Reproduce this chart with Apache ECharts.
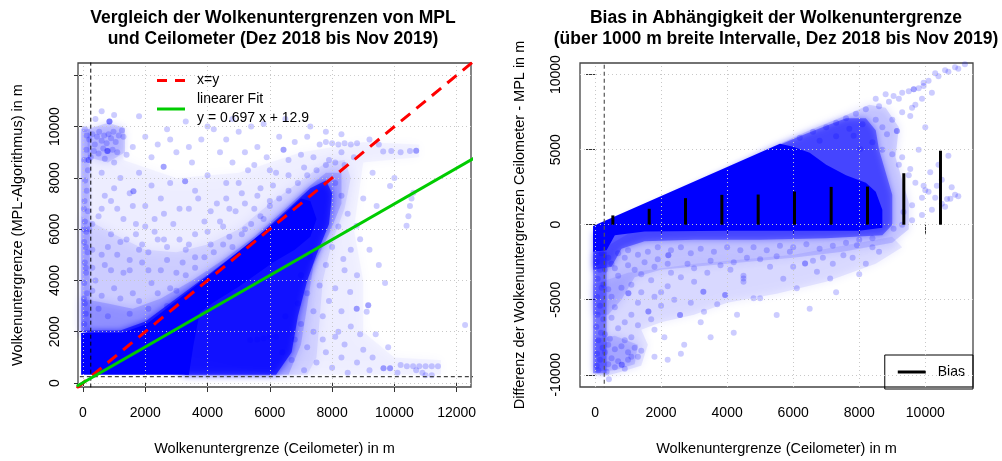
<!DOCTYPE html>
<html><head><meta charset="utf-8">
<script src="https://cdn.jsdelivr.net/npm/echarts@6/dist/echarts.min.js"></script>
<style>html,body{margin:0;padding:0;background:#fff}#c{width:1002px;height:461px}</style>
</head><body><div id="c"></div>
<script>
// ---------------- data ----------------
const xTicksL = [0, 2000, 4000, 6000, 8000, 10000, 12000];
const yTicksL = [0, 2000, 4000, 6000, 8000, 10000, 12000];
const yLabelsL = [0, 2000, 4000, 6000, 8000, 10000];
const xTicksR = [0, 2000, 4000, 6000, 8000, 10000];
const yTicksR = [-10000, -5000, 0, 5000, 10000];

const identityLine = [[-200, -200], [13000, 13000]];
const fitLine = [[-200, -126.5], [13000, 9073.9]];      // y = 0.697 x + 12.9
const thresholdL = 250;
const thresholdR = 280;

// bias per 1000 m interval (right panel)
const biasX = [540, 1640, 2740, 3840, 4940, 6040, 7150, 8250, 9350, 10460];
const biasY = [620, 1060, 1770, 1990, 2010, 2210, 2520, 2540, 3430, 4930];

// point-cloud density regions, left panel (ceilometer vs MPL), from sparse to solid
const cloudL1 = [[-60,2000],[-60,10000],[1300,10000],[1300,8700],[3000,8000],[5000,8200],[7000,9000],[9000,9400],[10800,9300],[10800,8800],[9000,8600],[8700,6000],[9000,4000],[9000,2000],[10000,1000],[11500,900],[11500,320],[6000,320]];
const cloudL2 = [[-60,2000],[-60,6500],[1000,5800],[2000,5200],[3000,5100],[4000,5400],[5000,6000],[6000,7000],[7000,7900],[7800,8600],[8400,8700],[8600,8000],[8400,6800],[8000,5500],[7700,4000],[7600,2500],[7500,1000],[7200,320],[3300,320]];
const cloudL3 = [[-60,2000],[-60,3300],[800,3100],[1600,2900],[2500,3300],[3500,4000],[4500,4800],[5500,5700],[6500,6800],[7300,7700],[7800,8200],[8300,8200],[8300,7000],[7900,5800],[7400,4600],[7200,3000],[7000,1500],[6600,320],[3300,320]];
const cloudL4 = [[3300,320],[6200,320],[6700,1200],[6900,2600],[7200,4000],[7500,5000],[7900,6200],[8000,7400],[7800,7900],[7300,7600],[6500,6700],[5500,5600],[4000,4200],[2000,2400],[1200,2050],[-60,2050]];
const cloudL5 = [[-60,320],[3400,320],[3550,1500],[3750,2750],[4200,3150],[5000,3750],[6100,4700],[6800,5200],[7300,5700],[7500,6400],[7300,7100],[7000,7200],[6200,6300],[4000,4150],[2050,2300],[1250,1950],[-60,1950]];
const columnL = [[-60,2000],[220,2000],[220,9900],[-60,9900]];
const clusterL = [[150,8800],[800,8600],[1350,9000],[1350,9950],[800,10150],[150,9900]];
const pointsL = [
 [120,9650],[200,9500],[300,9700],[380,9300],[450,9600],[520,9800],[600,9450],[680,9650],[760,9350],[820,9700],[900,9550],[980,9800],[1050,9400],[1150,9650],[1250,9850],[1300,9600],[350,9050],[500,8950],[650,9150],[800,9050],[950,9100],[1100,9000],[250,8800],[700,8750],[850,10200],[850,10200],[850,10200],[780,9050],[780,9050],[400,10300],[1000,10450],[600,10600],
 [40,2300],[90,2700],[60,3100],[130,3500],[40,3900],[100,4300],[60,4700],[150,5100],[40,5500],[110,5900],[60,6300],[160,6700],[50,7100],[120,7500],[70,7900],[160,8300],[40,8700],[180,8700],[180,8700],[110,9100],[60,9900],[30,6000],[30,6800],[90,4500],[90,5300],[30,3300],[200,6000],
 [500,6500],[700,7300],[900,5800],[1100,6800],[1200,8000],[1400,5600],[1500,7400],[1620,7480],[1620,7480],[1700,6200],[1800,8200],[1900,5400],[2000,6900],[2200,7700],[2300,5900],[2400,9300],[2590,8430],[2590,8430],[2600,6600],[2700,5300],[2800,7800],[2900,6200],[3000,9000],[3100,5600],[3280,7870],[3280,7870],[3400,6800],[3500,8600],[3600,5800],[3700,7200],[3800,9500],[3900,6300],[4000,8100],[4100,5400],[4300,7000],[4400,9000],[4500,6100],[4600,7800],[4700,5700],[4800,8600],[4900,6700],[5000,9800],[5100,7400],[5200,6000],[5300,8300],[5500,6800],[5600,9200],[5700,7600],[5800,6400],[5900,8800],[6000,7100],[6200,8200],[6300,9600],[6440,9100],[6440,9100],[6600,8700],[6800,9400],[7000,8900],[7200,9600],[7400,8800],[7600,9300],[7800,9400],[8000,9350],[8200,9300],[8400,9350],[8600,9300],[8800,9350],[8300,9000],[7900,8700],[9640,9030],[9900,9050],[10200,9000],[10500,9050],[10700,9060],[10700,9060],[9200,9500],[8700,8800],
 [400,4000],[700,4600],[1000,3700],[1300,4300],[1600,3500],[1900,4700],[2200,3900],[2500,4400],[2800,3700],[600,3400],[1100,5000],[1500,4400],[2100,5100],[2600,5600],[3200,4700],[3400,5400],[300,5200],[800,5300],[1700,5800],[2300,6400],[1000,7600],[600,8200],[1400,8900],[2000,9600],[2700,9900],[3300,10200],[4200,9900],[1800,10400],[4800,10300],[5400,10000],
 [300,3600],[500,2900],[800,2600],[1200,3300],[1500,2700],[1800,3200],[2100,2900],[2400,3500],[2700,3000],[3000,3600],[3300,4200],[3600,4500],[3900,4900],[4200,5100],[4500,5400],[4800,5300],[5100,5800],[5400,6200],[5700,6500],[6000,6900],[6300,7200],[6600,7500],[6900,7800],[7200,8100],[7500,8300],[7800,8500],[8100,8600],[8400,8500],[300,4500],[600,5000],[900,4400],[1200,5500],[1500,4800],[1800,5200],[2100,4400],[2400,5600],[2700,4800],[3000,4300],[3300,5200],[3600,4900],[4000,5900],[4400,6300],[4700,6800],[5200,7000],[5600,7300],[6100,7700],[6600,8100],[7100,8400],[300,6200],[600,6800],[900,7100],[1300,6400],[1600,6900],[2000,6100],[2500,7200],[3100,6800],[3600,7500],[4100,6700],[4600,7200],[5000,7800],[5500,8500],[6000,8300],[1000,8600],[1600,9200],[2200,8800],[2800,9500],[3400,9200],[4000,10000],[4600,9500],[5200,9000],[5800,10100],[6500,10300],[7300,10000],[7800,9800],[8300,9700],[9500,9300],
 [8100,7800],[8300,7300],[8500,6600],[8200,6100],[8600,5200],[8400,4400],[8100,3700],[8300,2800],[7900,3200],[7600,3800],[7800,4600],[8000,5300],[8200,2000],[8400,1500],[7700,1700],[7400,2800],[7200,3500],[6900,3100],[7000,4200],[7300,4900],[10200,700],[10700,500],[11000,300],[9300,1000],[9800,1400],[8900,1900],
 [8790,6130],[8900,5610],[8360,4840],[8580,3550],[9110,2780],[9430,6900],[9860,7680],[10390,6130],[10450,6500],[10500,6900],[10550,7200],[10610,7420],[9200,5200],[9500,4600],[8800,4200],[9700,3900],[8790,2900],[8790,2900],[9160,3030],[9160,3030],[9000,7200],[9300,8200],[10000,8000],[12270,2260],
 [6200,1800],[6400,1200],[6500,2600],[6700,900],[6800,1700],[7000,2300],[7100,500],[7200,1400],[7400,2000],[7500,800],[7700,2600],[7800,1200],[8000,600],[8100,1800],[8300,1000],[8500,400],[8600,2200],[8800,800],[9000,1300],[9200,500],[9400,1900],[9650,580],[9650,580],[9860,580],[9860,580],[10100,400],[10400,650],[10600,650],[10800,650],[11000,650],[11200,650],[11400,650],[10900,400],[11200,300],[5370,1680],[5600,1700],[5800,1750],[6000,1800]
];

// point-cloud density regions, right panel (ceilometer vs difference)
const cloudR1 = [[-60,-4000],[-60,-9900],[300,-10100],[800,-9800],[1400,-9400],[1600,-8000],[1400,-7000],[2000,-6500],[3000,-6000],[4000,-5200],[5500,-4600],[7000,-3800],[8500,-2600],[9300,-1500],[9000,-800],[6000,-2000],[3000,-2600],[1000,-3200]];
const cloudR2 = [[5400,5200],[6500,6300],[7500,7200],[8300,8000],[8800,7800],[9200,6500],[9100,4500],[9300,3000],[9500,1500],[9500,-300],[9000,-1200],[7500,-1800],[6000,-2200],[4500,-2500],[3000,-2800],[2000,-3000],[1200,-3500],[800,-5000],[400,-6000],[-60,-6000],[-60,-2000]];
const cloudR3 = [[5400,5150],[6200,5900],[7000,6600],[7600,7100],[8200,7100],[8500,6300],[8600,5000],[8800,3500],[9000,2000],[9000,0],[8700,-700],[7000,-900],[5000,-1000],[3000,-1000],[1500,-1100],[800,-1600],[500,-2800],[-60,-3000],[-60,-500]];
const cloudR4 = [[-60,-80],[5600,5400],[6000,5200],[6500,4800],[7000,4000],[7600,3300],[8200,2800],[8500,2200],[8700,1000],[8700,-200],[8000,-400],[4000,-400],[1500,-450],[600,-700],[350,-1700],[-60,-1800]];
const columnR = [[-60,-1800],[350,-1800],[350,-9900],[-60,-9900]];
const clusterR = [[0,-7600],[600,-7400],[1300,-8000],[1200,-9300],[600,-9700],[0,-9800]];
const pointsR = [
 [50,-2500],[150,-3000],[80,-3600],[200,-4200],[60,-4800],[150,-5400],[80,-6000],[250,-6300],[40,-6800],[180,-7200],[100,-7700],[230,-8200],[60,-8600],[150,-9000],[50,-9400],[100,-9700],[420,-10300],[350,-9800],
 [400,-8000],[600,-8300],[800,-8100],[1000,-8500],[1200,-8200],[500,-8900],[700,-9100],[810,-9330],[810,-9330],[1000,-9000],[1300,-8800],[450,-7600],[900,-7700],[1100,-7500],[600,-9500],
 [500,-2600],[700,-3400],[900,-2200],[1010,-4575],[1010,-4575],[1200,-3000],[1300,-5200],[1500,-2500],[1615,-5790],[1615,-5790],[1700,-3700],[1900,-2300],[2000,-4500],[2220,-2030],[2220,-2030],[2300,-3200],[2575,-6010],[2575,-6010],[600,-5500],[900,-6500],[1100,-6000],[2100,-7500],[1800,-7000],[2400,-5000],[400,-4300],
 [2800,-2600],[3000,-3800],[3280,-4460],[3280,-4460],[3500,-2400],[3700,-5300],[3940,-4690],[3940,-4690],[4100,-3000],[4300,-6000],[4495,-3400],[4495,-3580],[4495,-3800],[4600,-2200],[4800,-4900],[5000,-4900],[3200,-6500],[3500,-7500],[2700,-8000],[4200,-7200],
 [5500,-6010],[5900,-1810],[6110,-4240],[6360,-2590],[6360,-2590],[6720,-3140],[7120,-3580],[7520,-2030],[7930,-1370],[5300,-2800],[5700,-3600],[6500,-5600],[7300,-4500],[8200,-2600],[8600,-1800],[8000,-3300],[6900,-2200],
 [200,-1900],[400,-2200],[700,-1900],[1000,-1700],[1300,-2000],[1600,-1800],[1900,-1500],[2300,-1700],[2600,-1500],[2900,-1900],[3200,-1600],[3600,-1800],[4000,-1500],[4400,-1700],[4800,-1500],[5200,-1700],[5600,-1400],[6000,-1500],[6400,-1300],[6800,-1600],[7200,-1400],[7600,-1200],[8000,-1000],[8400,-900],
 [300,-3000],[600,-2900],[1000,-2700],[1400,-3300],[1800,-2800],[2200,-2600],[2600,-3500],[3000,-2900],[3400,-3200],[3800,-2700],[4200,-2500],[5000,-2300],[5500,-2100],[6000,-2800],[6600,-2400],[7200,-2600],[7800,-2200],[8400,-1500],
 [250,-4000],[500,-4800],[800,-4200],[1100,-4000],[1400,-4500],[1800,-4800],[2200,-4100],[500,-6200],[700,-6900],[300,-7300],[1300,-6700],[1700,-6300],[2000,-5400],[2900,-5200],[3300,-5800],[400,-9300],[900,-9600],[1100,-8800],[300,-8500],[1400,-8400],[1800,-8800],[2200,-9000],[2600,-8600],
 [9040,-265],[9300,0],[9600,300],[9900,650],[10200,1000],[10500,1400],[10760,1724],[9340,840],[9600,1300],[9900,1800],[10100,2200],[10350,2600],
 [9040,8570],[9300,8800],[9650,9020],[9650,9020],[9950,9240],[9950,9460],[10300,10100],[10600,10300],[10900,10500],[11200,10700],[11400,10800],
 [6200,5800],[6600,6200],[7000,6500],[7300,6800],[7600,7100],[7900,7400],[8200,7700],[8600,7900],[8900,8200],[9200,8400],[9500,8900],[9800,9100],[10100,9600],[10400,9900],[10700,10200],[11000,10400],[6800,5600],[7300,5900],[7700,6400],[8100,6700],[8500,7000],[8700,6500],[9000,7000],[9300,7500],[9600,7800],[9900,8400],[10200,8800],[8400,5500],[8700,5000],[9000,4700],[9200,4000],[9500,3300],[9700,2800],[10000,2300],[10300,1800],[10600,1200],[10800,2500],[11000,1900],[10400,4000],[10700,4600],
 [9140,6250],[9140,6250],[8840,6030],[9545,7250],[7830,5920],[8030,5040],[9545,3710],[10150,3490],[10660,1720],[9950,2600],[9300,4500],[9800,5000],[10000,6500],[9700,8000],[8500,8400],[8800,8700],[10500,3000],[10900,2000]
];

// ---------------- chart ----------------
const FONT = 'Liberation Sans, Arial, Helvetica, sans-serif';
const BLUE = '#0000ff';
const chart = echarts.init(document.getElementById('c'), null, {renderer: 'canvas'});
const plain = v => String(v);

function poly(idx, pts, opacity, blur) {
  return {type: 'custom', xAxisIndex: idx, yAxisIndex: idx, z: 1, silent: true,
    data: [pts[0]],
    renderItem: function (params, api) {
      return {type: 'polygon', shape: {points: pts.map(p => api.coord(p))},
              style: {fill: BLUE, opacity: opacity, shadowBlur: blur, shadowColor: BLUE}};
    }};
}
function dots(idx, data) {
  return {type: 'scatter', xAxisIndex: idx, yAxisIndex: idx, z: 2, silent: true,
    symbol: 'circle', symbolSize: 6, data: data,
    itemStyle: {color: BLUE, opacity: 0.2}};
}
function gridLines(idx, xs, ys) {
  return {type: 'line', xAxisIndex: idx, yAxisIndex: idx, data: [], z: 4, silent: true,
    markLine: {silent: true, symbol: ['none', 'none'], label: {show: false}, animation: false,
      lineStyle: {color: '#c8c8c8', type: [1, 3], width: 1},
      data: xs.map(v => ({xAxis: v})).concat(ys.map(v => ({yAxis: v})))}};
}
function xAx(idx, min, max, ticks, name) {
  return {gridIndex: idx, type: 'value', min: min, max: max,
    axisLine: {show: false}, splitLine: {show: false},
    axisTick: {show: true, customValues: ticks, length: 9, lineStyle: {color: '#333', width: 1}},
    axisLabel: {customValues: ticks, formatter: plain, margin: 19, fontSize: 14, color: '#000', fontFamily: FONT},
    name: name, nameLocation: 'middle', nameGap: 54,
    nameTextStyle: {fontSize: 14.5, color: '#000', fontFamily: FONT}};
}
function yAx(idx, min, max, ticks, labels, name, margin, gap) {
  return {gridIndex: idx, type: 'value', min: min, max: max,
    axisLine: {show: false}, splitLine: {show: false},
    axisTick: {show: true, customValues: ticks, length: 9, lineStyle: {color: '#333', width: 1}},
    axisLabel: {customValues: labels, formatter: plain, rotate: 90, margin: margin, fontSize: 14, color: '#000', fontFamily: FONT},
    name: name, nameLocation: 'middle', nameGap: gap,
    nameTextStyle: {fontSize: 14.5, color: '#000', fontFamily: FONT}};
}

const option = {
  animation: false,
  backgroundColor: '#fff',
  title: [
    {text: 'Vergleich der Wolkenuntergrenzen von MPL\nund Ceilometer (Dez 2018 bis Nov 2019)',
     left: 273, top: 8, textAlign: 'center', padding: 0,
     textStyle: {fontSize: 17.5, fontWeight: 'bold', lineHeight: 21, color: '#000', fontFamily: FONT}},
    {text: 'Bias in Abhängigkeit der Wolkenuntergrenze\n(über 1000 m breite Intervalle, Dez 2018 bis Nov 2019)',
     left: 776, top: 8, textAlign: 'center', padding: 0,
     textStyle: {fontSize: 17.5, fontWeight: 'bold', lineHeight: 21, color: '#000', fontFamily: FONT}}
  ],
  legend: [
    {data: [{name: 'x=y', icon: 'path://M0,0h10v3h-10z M18,0h10v3h-10z'},
            {name: 'linearer Fit\ny = 0.697 x + 12.9', icon: 'path://M0,0h28v3h-28z'}],
     orient: 'vertical', left: 152, top: 66,
     itemWidth: 28, itemHeight: 14, itemGap: 0, padding: 5,
     textStyle: {fontSize: 14, color: '#000', fontFamily: FONT, lineHeight: 19, padding: [0, 0, 0, 7]}},
    {data: [{name: 'Bias', icon: 'rect'}], right: 29, bottom: 72, itemWidth: 28, itemHeight: 3,
     padding: [10, 8, 10, 13], borderColor: '#000', borderWidth: 1, borderRadius: 0,
     textStyle: {fontSize: 14, color: '#000', fontFamily: FONT, padding: [0, 0, 0, 7]}}
  ],
  grid: [
    {left: 78, top: 63, width: 393, height: 326, show: true, borderColor: '#444', borderWidth: 1.3, backgroundColor: 'transparent'},
    {left: 580, top: 63, width: 393, height: 326, show: true, borderColor: '#444', borderWidth: 1.3, backgroundColor: 'transparent'}
  ],
  xAxis: [
    xAx(0, -160, 12460, xTicksL, 'Wolkenuntergrenze (Ceilometer) in m'),
    xAx(1, -455, 11445, xTicksR, 'Wolkenuntergrenze (Ceilometer) in m')
  ],
  yAxis: [
    yAx(0, -155, 12480, yTicksL, yLabelsL, 'Wolkenuntergrenze (MPL-Algorithmus) in m', 16, 53),
    yAx(1, -10815, 10776, yTicksR, yTicksR, 'Differenz der Wolkenuntergrenzen Ceilometer - MPL in m', 17, 53)
  ],
  series: [
    // left panel
    poly(0, cloudL1, 0.035, 12),
    poly(0, cloudL2, 0.07, 12),
    poly(0, cloudL3, 0.16, 10),
    poly(0, columnL, 0.14, 4),
    poly(0, clusterL, 0.13, 8),
    poly(0, cloudL4, 0.65, 6),
    poly(0, cloudL5, 1, 0),
    dots(0, pointsL),
    gridLines(0, xTicksL, yTicksL),
    {type: 'line', xAxisIndex: 0, yAxisIndex: 0, z: 5, silent: true, symbol: 'none',
     data: [[thresholdL, -1000], [thresholdL, 13000]], lineStyle: {color: '#000', width: 1, type: [4, 3]}},
    {type: 'line', xAxisIndex: 0, yAxisIndex: 0, z: 5, silent: true, symbol: 'none',
     data: [[-1000, thresholdL], [13000, thresholdL]], lineStyle: {color: '#444', width: 1.2, type: [4, 3]}},
    {name: 'x=y', type: 'line', xAxisIndex: 0, yAxisIndex: 0, z: 6, silent: true, symbol: 'none',
     data: identityLine, lineStyle: {color: '#ff0000', width: 3, type: [12, 8]}, itemStyle: {color: '#ff0000'}},
    {name: 'linearer Fit\ny = 0.697 x + 12.9', type: 'line', xAxisIndex: 0, yAxisIndex: 0, z: 6, silent: true, symbol: 'none',
     data: fitLine, lineStyle: {color: '#00cc00', width: 3}, itemStyle: {color: '#00cc00'}},
    // right panel
    poly(1, cloudR1, 0.08, 10),
    poly(1, cloudR2, 0.13, 10),
    poly(1, columnR, 0.28, 4),
    poly(1, clusterR, 0.12, 8),
    poly(1, cloudR3, 0.4, 6),
    poly(1, cloudR4, 1, 0),
    dots(1, pointsR),
    gridLines(1, xTicksR, yTicksR),
    {type: 'line', xAxisIndex: 1, yAxisIndex: 1, z: 5, silent: true, symbol: 'none',
     data: [[thresholdR, -12000], [thresholdR, 12000]], lineStyle: {color: '#555', width: 1.2, type: [4, 3]}},
    {name: 'Bias', type: 'custom', xAxisIndex: 1, yAxisIndex: 1, z: 6, silent: true,
     itemStyle: {color: '#000'},
     data: biasX.map((x, i) => [x, biasY[i]]),
     renderItem: function (params, api) {
       const p0 = api.coord([api.value(0), 0]);
       const p1 = api.coord([api.value(0), api.value(1)]);
       return {type: 'line', shape: {x1: p0[0], y1: p0[1], x2: p1[0], y2: p1[1]},
               style: {stroke: '#000', lineWidth: 3}};
     }}
  ]
};
chart.setOption(option);
</script></body></html>
